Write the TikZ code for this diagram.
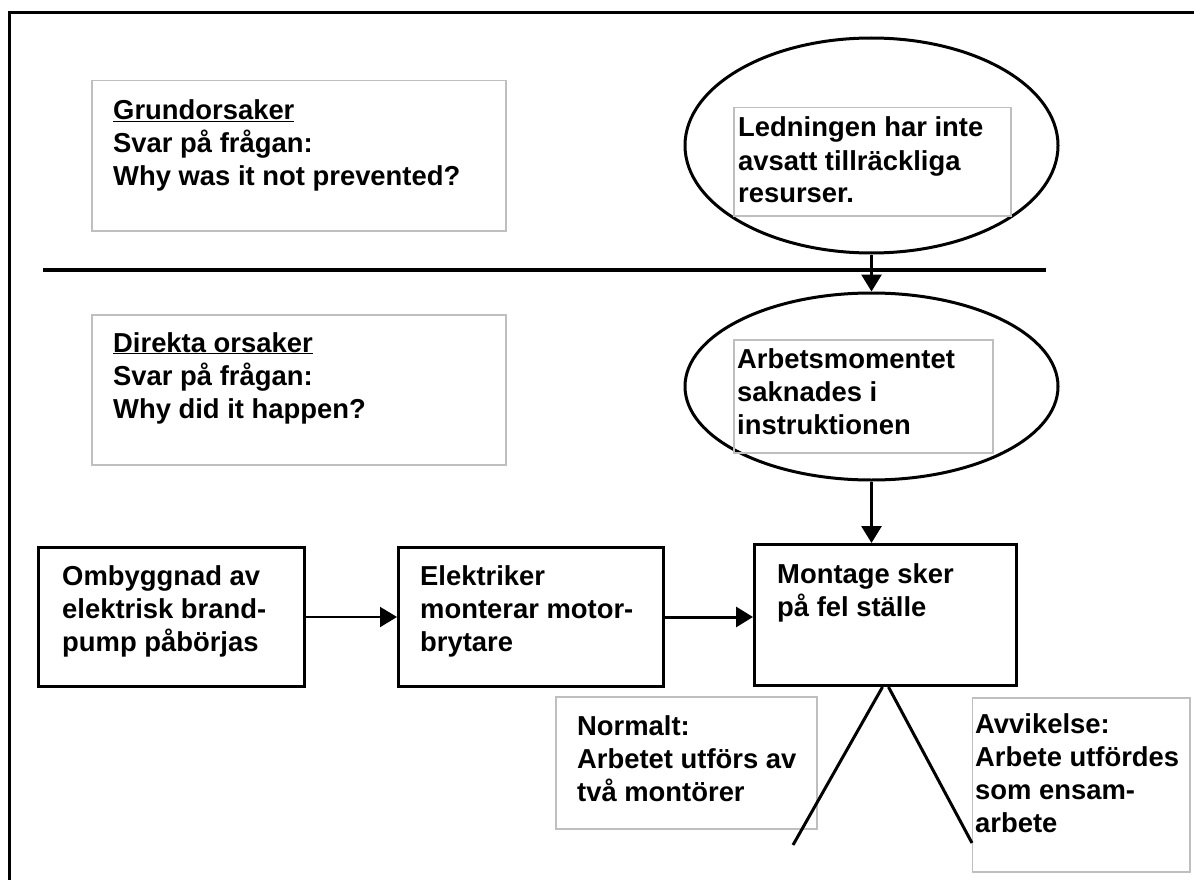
\documentclass[tikz,border=0pt]{standalone}
\usepackage{fontspec}
\setmainfont{Liberation Sans}
\usetikzlibrary{shapes.geometric,arrows.meta}

% multi-line text block whose baseline is that of its first line
\newcommand{\stacklines}[1]{\begin{tabular}[t]{@{}l@{}}#1\end{tabular}}

\begin{document}
\begin{tikzpicture}[
  x=1pt, y=-1pt,
  txt/.style={anchor=base west, inner sep=0pt,
    font=\fontsize{27.4}{33}\selectfont\bfseries},
  graybox/.style={draw=black!25, line width=1.5pt, anchor=north west, inner sep=0pt},
  stepbox/.style={draw, line width=3pt, anchor=north west, inner sep=0pt},
  oval/.style={draw, ellipse, line width=3pt, inner sep=0pt},
  link/.style={line width=3pt, -{Triangle[length=17pt,width=20pt]}},
]
\useasboundingbox (0,0) rectangle (1194,880);

% frame along the top and left edges
\coordinate (ftr) at (1194,13);
\coordinate (ftl) at (9.5,13);
\coordinate (fbl) at (9.5,880);
\draw[line width=3pt] (ftr) -- (ftl) -- (fbl);

% root causes legend
\node[graybox, minimum width=414, minimum height=150] (gk) at (91,80) {};
\node[txt] (gktext) at (113,120)
  {\stacklines{\underline{Grundorsaker}\\Svar på frågan:\\Why was it not prevented?}};

% direct causes legend
\node[graybox, minimum width=414, minimum height=150] (dk) at (91,314) {};
\node[txt] (dktext) at (113,352)
  {\stacklines{\underline{Direkta orsaker}\\Svar på frågan:\\Why did it happen?}};

% root cause
\node[oval, minimum width=373, minimum height=215] (e1) at (871.5,145.5) {};
\node[graybox, minimum width=277, minimum height=108] (ib1) at (733,107) {};
\node[txt] (e1text) at (738,137)
  {\stacklines{Ledningen har inte\\avsatt tillräckliga\\resurser.}};

% divider between root causes and direct causes
\coordinate (dl) at (43,270);
\coordinate (dr) at (1046,270);
\draw[line width=3.5pt] (dl) -- (dr);

% direct cause
\node[oval, minimum width=373, minimum height=187] (e2) at (871.5,386.5) {};
\node[graybox, minimum width=259, minimum height=113] (ib2) at (733,339) {};
\node[txt] (e2text) at (737,368)
  {\stacklines{Arbetsmomentet\\saknades i\\instruktionen}};

% event chain
\node[stepbox, minimum width=266, minimum height=139] (A) at (36.5,546) {};
\node[txt] (Atext) at (62,585)
  {\stacklines{Ombyggnad av\\elektrisk brand-\\pump påbörjas}};

\node[stepbox, minimum width=264.5, minimum height=139] (B) at (397,546) {};
\node[txt] (Btext) at (420,585)
  {\stacklines{Elektriker\\monterar motor-\\brytare}};

\node[stepbox, minimum width=262, minimum height=141] (C) at (753,543) {};
\node[txt] (Ctext) at (777,583)
  {\stacklines{Montage sker\\på fel ställe}};

% normal vs. deviation
\node[graybox, minimum width=261, minimum height=132] (nb) at (555,696) {};
\node[txt] (nbtext) at (577,735)
  {\stacklines{Normalt:\\Arbetet utförs av\\två montörer}};

\node[graybox, minimum width=217.5, minimum height=174] (ab) at (971.5,697) {};
\node[txt] (abtext) at (975,733)
  {\stacklines{Avvikelse:\\Arbete utfördes\\som ensam-\\arbete}};

% connectors
\draw[link] (e1.south) -- (e2.north);
\draw[link] (e2.south) -- (e2.south |- C.north);
\draw[link, line width=2pt] (A.east) -- (B.west);
\draw[link] (B.east) -- (B.east -| C.west);

\coordinate (nl) at (793,845);
\coordinate (nr) at (972,843);
\draw[line width=3pt] ([xshift=-3pt]C.south) -- (nl);
\draw[line width=3pt] ([xshift=3pt]C.south) -- (nr);
\end{tikzpicture}
\end{document}
